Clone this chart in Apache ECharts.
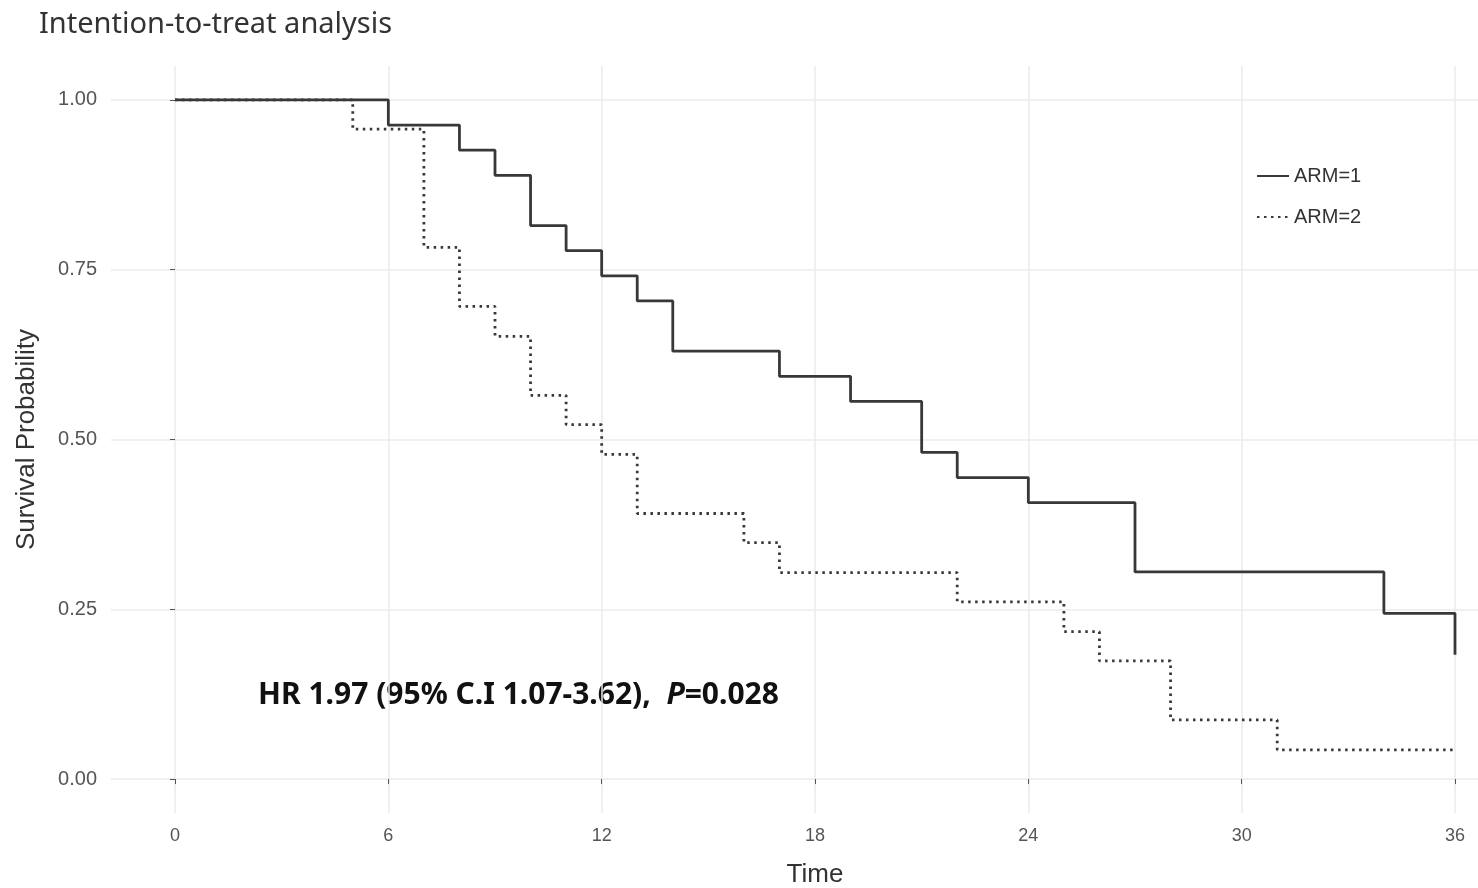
<!DOCTYPE html>
<html>
<head>
<meta charset="utf-8">
<script src="https://cdn.jsdelivr.net/npm/echarts@6/dist/echarts.min.js"></script>
<style>
  html, body { margin: 0; padding: 0; background: #fff; }
  #main { width: 1478px; height: 888px; }
</style>
</head>
<body>
<div id="main"></div>
<script>
// 数据：Kaplan-Meier 曲线
var arm1Time = [0, 6, 8, 9, 10, 11, 12, 13, 14, 17, 19, 21, 22, 24, 27, 34, 36];
var arm1Surv = [1, 0.963, 0.926, 0.889, 0.815, 0.778, 0.741, 0.704, 0.630, 0.593, 0.556, 0.481, 0.444, 0.407, 0.305, 0.244, 0.183];

var arm2Time = [0, 5, 7, 8, 9, 10, 11, 12, 13, 16, 17, 22, 25, 26, 28, 31, 36];
var arm2Surv = [1, 0.957, 0.783, 0.696, 0.652, 0.565, 0.522, 0.478, 0.391, 0.348, 0.304, 0.261, 0.217, 0.174, 0.087, 0.043, 0.043];

var xTicks = [0, 6, 12, 18, 24, 30, 36];
var yTicks = [0, 0.25, 0.5, 0.75, 1];

function pairs(t, s) {
    var out = [];
    for (var i = 0; i < t.length; i++) out.push([t[i], s[i]]);
    return out;
}

function kmChart(id) {
    var myChart = echarts.init(document.getElementById(id));

    var lineColor = '#383838';
    var gridColor = '#ebebeb';
    var tickColor = '#555';

    var option = {
        animation: false,
        backgroundColor: '#fff',
        title: {
            text: 'Intention-to-treat analysis',
            left: 34,
            top: 5,
            textStyle: {
                fontFamily: 'Noto Sans',
                fontWeight: 'normal',
                fontSize: 29,
                color: '#333'
            }
        },
        legend: {
            orient: 'vertical',
            left: 1251,
            top: 161,
            itemWidth: 32,
            itemHeight: 14,
            itemGap: 21,
            itemStyle: { opacity: 0 },
            textStyle: { fontFamily: 'Liberation Sans', fontSize: 20, color: '#333' },
            data: ['ARM=1', 'ARM=2']
        },
        grid: {
            left: 111,
            right: -41,
            top: 66,
            bottom: 75,
            containLabel: false,
            outerBoundsMode: 'none'
        },
        xAxis: {
            type: 'value',
            min: -1.8,
            max: 37.8,
            name: 'Time',
            nameLocation: 'middle',
            nameGap: 49,
            nameTextStyle: { fontFamily: 'Liberation Sans', fontSize: 26, color: '#333' },
            axisLine: { show: false },
            axisTick: { show: true, length: 5, customValues: xTicks, lineStyle: { color: tickColor } },
            axisLabel: {
                customValues: xTicks,
                margin: 14,
                fontFamily: 'Liberation Sans',
                fontSize: 18,
                color: '#555'
            },
            splitLine: { show: true, lineStyle: { color: gridColor, width: 1.5 } }
        },
        yAxis: {
            type: 'value',
            min: -0.05,
            max: 1.05,
            name: 'Survival Probability',
            nameLocation: 'middle',
            nameGap: 71,
            nameTextStyle: { fontFamily: 'Liberation Sans', fontSize: 26, color: '#333' },
            axisLine: { show: false },
            axisTick: { show: true, length: 5, customValues: yTicks, lineStyle: { color: tickColor } },
            axisLabel: {
                customValues: yTicks,
                margin: 14,
                fontFamily: 'Liberation Sans',
                fontSize: 20,
                color: '#555',
                formatter: function (v) { return v.toFixed(2); }
            },
            splitLine: { show: true, lineStyle: { color: gridColor, width: 1.5 } }
        },
        graphic: [{
            type: 'text',
            left: 258,
            top: 680,
            style: {
                text: '{b|HR 1.97 (95% C.I 1.07-3.62),  }{p|P}{b|=0.028}',
                rich: {
                    b: { fontFamily: 'Noto Sans', fontWeight: 'bold', fontSize: 30, fill: '#111' },
                    p: { fontFamily: 'Noto Sans', fontWeight: 'bold', fontStyle: 'italic', fontSize: 30, fill: '#111' }
                }
            }
        }],
        series: [{
            name: 'ARM=1',
            type: 'line',
            step: 'end',
            symbol: 'none',
            data: pairs(arm1Time, arm1Surv),
            lineStyle: { color: lineColor, width: 2.8 },
            itemStyle: { color: lineColor }
        },
        {
            name: 'ARM=2',
            type: 'line',
            step: 'end',
            symbol: 'none',
            data: pairs(arm2Time, arm2Surv),
            lineStyle: { color: lineColor, width: 2.8, type: [2.5, 4.5] },
            itemStyle: { color: lineColor }
        }]
    };
    myChart.setOption(option);
}

kmChart('main');
</script>
</body>
</html>
